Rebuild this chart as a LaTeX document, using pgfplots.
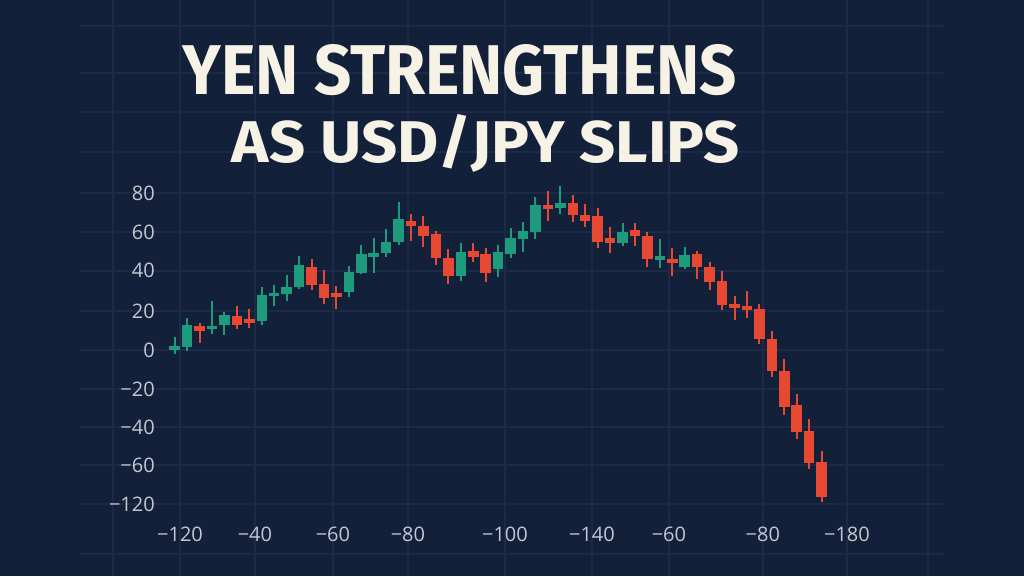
\documentclass[border=0pt]{standalone}
\usepackage{graphicx}
\usepackage{pgfplots}
\pgfplotsset{compat=1.18}
\usepackage{pgfplotstable}
\usepackage{fontspec}
\setmainfont{Open Sans}
\newfontfamily\titlefont{Fira Sans}

\definecolor{bg}{HTML}{13203A}
\definecolor{gridc}{HTML}{1B2B47}
\definecolor{tickc}{HTML}{C3C8D0}
\definecolor{titlec}{HTML}{F7F2E6}
\definecolor{upc}{HTML}{1E9B7D}
\definecolor{downc}{HTML}{E74832}

% candle index, open, high, low, close
\pgfplotstableread{
i  o     h     l     c
0  0.0   6.6   -2.0  2.0
1  1.7   16.5  -0.4  12.7
3  10.5  25.0  8.2   12.2
4  12.7  19.5  7.6   17.8
7  14.6  32.3  12.6  28.2
8  27.5  33.0  22.4  29.2
9  28.5  38.1  24.8  31.9
10 32.3  47.9  31.1  43.5
14 29.4  42.8  26.9  39.9
15 39.4  53.4  38.7  49.1
16 47.2  57.2  39.4  49.3
17 49.4  61.5  47.2  55.2
18 55.2  75.4  53.4  66.9
23 37.7  54.4  35.2  49.9
26 41.3  53.5  37.0  49.8
27 48.8  62.0  46.7  57.2
28 56.4  65.4  49.9  60.6
29 60.3  77.8  56.4  73.9
31 72.2  83.6  69.3  75.1
36 54.4  64.9  53.0  60.3
39 45.7  56.4  41.6  47.9
41 42.1  52.6  41.1  48.6
}\upcandles

\pgfplotstableread{
i  o     h     l     c
2  12.4  13.6  3.7   9.8
5  17.3  22.4  10.5  12.6
6  15.9  20.9  11.1  13.6
11 42.4  46.2  30.6  33.1
12 33.5  40.8  23.4  26.3
13 29.2  32.6  20.7  26.9
19 65.7  69.1  55.7  63.3
20 63.2  68.4  52.6  58.1
21 59.3  60.6  43.3  46.7
22 47.0  51.5  33.5  37.9
24 50.3  54.5  45.0  47.5
25 48.8  51.8  34.5  39.1
30 73.5  81.0  65.9  72.2
32 75.1  78.8  65.4  68.6
33 68.5  74.4  62.5  65.7
34 68.4  72.1  51.7  55.2
35 56.9  62.4  49.6  54.3
37 61.0  64.9  53.1  58.1
38 58.1  60.0  42.4  46.2
40 46.5  51.8  37.9  44.2
42 48.8  50.3  36.3  42.4
43 42.4  44.7  30.6  34.8
44 35.2  40.4  20.4  22.9
45 23.4  27.5  15.3  21.2
46 22.3  30.1  16.2  20.4
47 20.7  23.4  3.1   5.5
48 5.6   9.8   -13.9 -10.7
49 -10.5 -4.6  -33.3 -29.2
50 -28.0 -22.6 -45.5 -41.6
51 -41.1 -35.3 -60.5 -57.4
52 -56.9 -51.5 -77.3 -74.8
}\downcandles

\begin{document}
\begin{tikzpicture}[x=1pt,y=1pt]
\useasboundingbox (0,0) rectangle (1024,576);
\fill[bg] (0,0) rectangle (1024,576);
\begin{axis}[
  at={(80pt,0pt)}, anchor=south west,
  width=863pt, height=576pt, scale only axis,
  xmin=-7.61, xmax=61.76, ymin=-115.2, ymax=178.3,
  axis line style={draw=none},
  major tick length=0pt,
  xtick={-4.96,0.43,6.45,12.72,18.75,26.55,33.54,39.73,47.28,54.04,60.55},
  xticklabels={,−120,−40,−60,−80,−100,−140,−60,−80,−180,},
  ytick={165.1,141.1,121.3,100.9,80,60.1,40.3,19.9,0,-19.9,-39.2,-58.6,-78.5,-103.9},
  yticklabels={,,,,80,60,40,20,0,−20,−40,−60,−120,},
  grid=major,
  grid style={line width=1.5pt, gridc},
  ticklabel style={font=\fontsize{20}{24}\selectfont, text=tickc, inner sep=0pt},
  xticklabel style={anchor=base, yshift=35pt},
  yticklabel style={anchor=east, xshift=75pt},
  clip=false,
]
% wicks
\addplot[draw=none, mark=none, error bars/.cd, y dir=both, y explicit, error mark=none,
  error bar style={line width=2pt, draw=upc}]
  table[x=i, y expr={(\thisrow{h}+\thisrow{l})/2}, y error expr={(\thisrow{h}-\thisrow{l})/2}] {\upcandles};
\addplot[draw=none, mark=none, error bars/.cd, y dir=both, y explicit, error mark=none,
  error bar style={line width=2pt, draw=downc}]
  table[x=i, y expr={(\thisrow{h}+\thisrow{l})/2}, y error expr={(\thisrow{h}-\thisrow{l})/2}] {\downcandles};
% bodies
\addplot[draw=none, mark=none, error bars/.cd, y dir=both, y explicit, error mark=none,
  error bar style={line width=10.5pt, draw=upc}]
  table[x=i, y expr={(\thisrow{o}+\thisrow{c})/2}, y error expr={max(abs(\thisrow{c}-\thisrow{o})/2,0.9)}] {\upcandles};
\addplot[draw=none, mark=none, error bars/.cd, y dir=both, y explicit, error mark=none,
  error bar style={line width=10.5pt, draw=downc}]
  table[x=i, y expr={(\thisrow{o}+\thisrow{c})/2}, y error expr={max(abs(\thisrow{c}-\thisrow{o})/2,0.9)}] {\downcandles};
\end{axis}
\node[anchor=base east, inner sep=0pt, text=titlec] at (737,481)
  {\resizebox{554pt}{50pt}{\titlefont\bfseries YEN STRENGTHENS}};
\node[anchor=base east, inner sep=0pt, text=titlec] at (740,413)
  {\resizebox{508pt}{48pt}{\titlefont\bfseries AS USD/JPY SLIPS}};
\end{tikzpicture}
\end{document}
